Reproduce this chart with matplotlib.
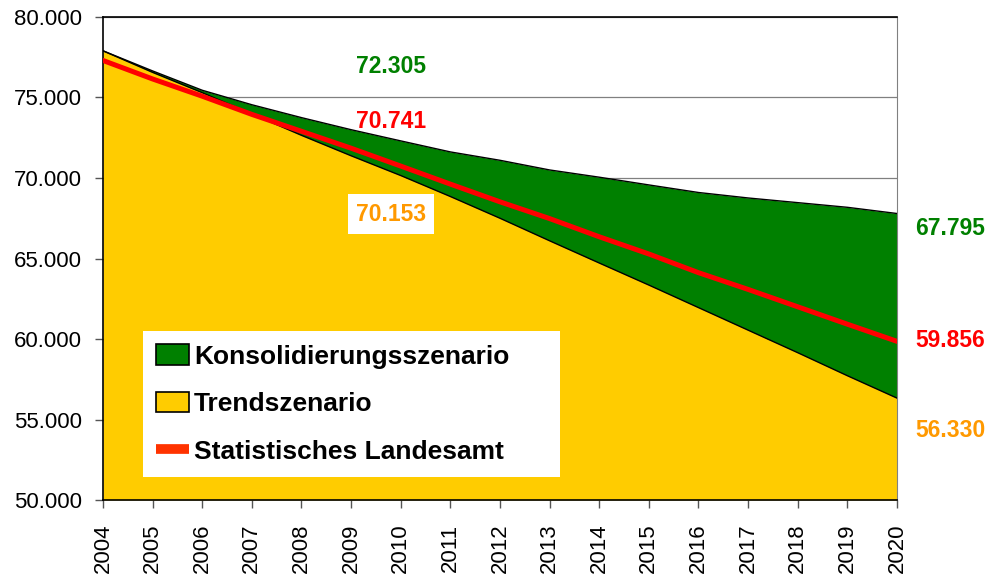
import matplotlib
matplotlib.use("Agg")
import matplotlib.pyplot as plt
from matplotlib.patches import Patch
from matplotlib.lines import Line2D

years = list(range(2004, 2021))
konsolidierung = [77900, 76650, 75450, 74550, 73750, 73000, 72305, 71620, 71100, 70500,
                  70050, 69570, 69100, 68760, 68470, 68180, 67795]
trend = [77900, 76560, 75300, 73980, 72650, 71380, 70153, 68850, 67500, 66100,
         64720, 63350, 61950, 60550, 59150, 57720, 56330]
landesamt = [77300, 76150, 75080, 73950, 72900, 71850, 70741, 69620, 68520, 67480,
             66350, 65280, 64120, 63080, 62000, 60920, 59856]

yticks = [50000, 55000, 60000, 65000, 70000, 75000, 80000]
ylabels = ["50.000", "55.000", "60.000", "65.000", "70.000", "75.000", "80.000"]

GREEN = "#008000"
YELLOW = "#FFCC00"
RED = "#FF0000"
ORANGE = "#FF9900"

plt.rcParams['font.family'] = ['Liberation Sans', 'DejaVu Sans']

fig = plt.figure(figsize=(9.97, 5.76), dpi=100)
ax = fig.add_axes([0.1033, 0.1319, 0.7964, 0.8386])

ax.fill_between(years, 50000, trend, color=YELLOW, zorder=2, lw=0)
ax.fill_between(years, trend, konsolidierung, color=GREEN, zorder=2, lw=0)
ax.plot(years, trend, color="black", lw=1.0, zorder=3)
ax.plot(years, konsolidierung, color="black", lw=1.0, zorder=3)
ax.plot(years, landesamt, color=RED, lw=3.6, zorder=4)

ax.set_xlim(2004, 2020)
ax.set_ylim(50000, 80000)
ax.set_yticks(yticks)
ax.set_yticklabels(ylabels, fontsize=16)
ax.set_xticks(years)
ax.set_xticklabels([str(y) for y in years], rotation=90, fontsize=16)
ax.tick_params(axis='y', direction='out', length=6, color='#555555', width=1, pad=9)
ax.tick_params(axis='x', direction='out', length=6, color='#555555', width=1, pad=11)
ax.yaxis.grid(True, color='#808080', lw=0.9, zorder=1)
ax.set_axisbelow(True)
for s in ['left', 'bottom', 'top']:
    ax.spines[s].set_color('black')
    ax.spines[s].set_linewidth(1.2)
ax.spines['right'].set_color('#808080')

# value labels (x in years, y in data units)
lab = dict(fontsize=16.5, fontweight='bold', ha='center', va='center')
ax.text(2009.8, 76950, "72.305", color=GREEN, **lab)
ax.text(2009.8, 73500, "70.741", color=RED, **lab)
ax.text(2009.8, 67750, "70.153", color=ORANGE,
        bbox=dict(facecolor='white', edgecolor='none', pad=6), **lab)
ax.text(2021.07, 66850, "67.795", color=GREEN, clip_on=False, **lab)
ax.text(2021.07, 59900, "59.856", color=RED, clip_on=False, **lab)
ax.text(2021.07, 54330, "56.330", color=ORANGE, clip_on=False, **lab)

handles = [
    Patch(facecolor=GREEN, edgecolor='black', lw=1.2),
    Patch(facecolor=YELLOW, edgecolor='black', lw=1.2),
    Line2D([], [], color="#FF3300", lw=7, solid_capstyle='butt'),
]
labels = ["Konsolidierungsszenario", "Trendszenario", "Statistisches Landesamt"]
leg = ax.legend(handles, labels, loc='lower left', bbox_to_anchor=(0.05, 0.048, 0.526, 0.3),
                mode='expand', frameon=True, fancybox=False, framealpha=1,
                prop={'size': 19, 'weight': 'bold'}, handlelength=1.25, handleheight=0.8,
                labelspacing=0.88, handletextpad=0.2, borderpad=0.5, borderaxespad=0)
leg.get_frame().set_edgecolor('none')
leg.set_zorder(5)

fig.savefig("out.png", dpi=100)
